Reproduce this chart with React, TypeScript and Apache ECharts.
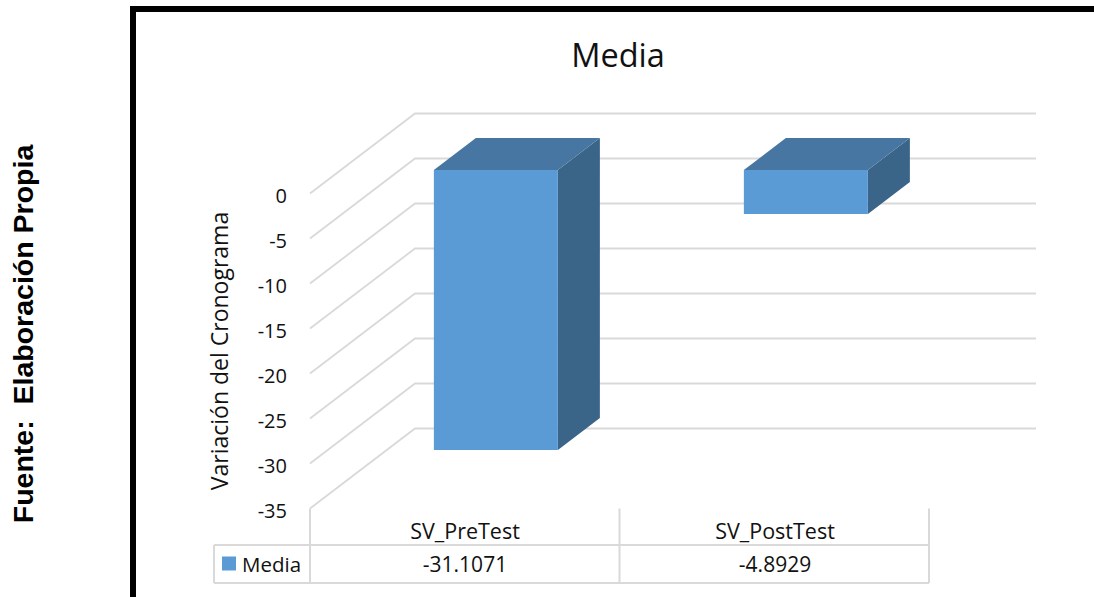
import React, { useEffect, useRef } from "react";
import * as echarts from "echarts";

const categories = ["SV_PreTest", "SV_PostTest"];
const mediaValues = [-31.1071, -4.8929];
const tableLabels = ["-31.1071", "-4.8929"];
const yTicks = [0, -5, -10, -15, -20, -25, -30, -35];
const titleText = "Media";
const yAxisTitle = "Variación del Cronograma";
const sourceNote = "Fuente:  Elaboración Propia";

const FONT = "'Open Sans'";
const GRID = { left: 310, top: 193.5, width: 620, height: 315 };
// Oblique projection of the floor depth, in pixels
const DEPTH = { x: 105, y: -80 };
// Where the bars sit between the front (0) and back (1) planes
const BAR_FRONT = 0.294;
const BAR_BACK = 0.694;
const BAR_WIDTH_RATIO = 0.4;
const COLORS = {
  front: "#5b9bd5",
  top: "#4676a1",
  side: "#3a6488",
  rule: "#d9d9d9",
  text: "#111111",
};
const TABLE = { left: 214, rowTop: 545, bottom: 583, right: 929 };

const poly = (points: number[][], fill: string) => ({
  type: "polygon",
  shape: { points },
  style: { fill },
});

// Slanted floor-to-wall rule plus the horizontal rule on the back wall
function renderWallRule(params: any, api: any) {
  const cs = params.coordSys;
  const p = api.coord([0, api.value(1)]);
  const y = p[1];
  const style = { stroke: COLORS.rule, lineWidth: 1.8, fill: "none" };
  return {
    type: "polyline",
    shape: {
      points: [
        [cs.x, y],
        [cs.x + DEPTH.x, y + DEPTH.y],
        [cs.x + cs.width + DEPTH.x + 1, y + DEPTH.y],
      ],
    },
    style,
  };
}

// Box with front, side and top faces, hanging from the zero plane
function renderBar(params: any, api: any) {
  const idx = api.value(0);
  const zero = api.coord([idx, 0]);
  const end = api.coord([idx, api.value(1)]);
  const band = api.size([1, 0])[0];
  const w = band * BAR_WIDTH_RATIO;
  const fx = BAR_FRONT * DEPTH.x;
  const fy = BAR_FRONT * DEPTH.y;
  const dx = (BAR_BACK - BAR_FRONT) * DEPTH.x;
  const dy = (BAR_BACK - BAR_FRONT) * DEPTH.y;
  const l = zero[0] - w / 2 + fx;
  const r = l + w;
  const t = zero[1] + fy;
  const b = end[1] + fy;
  return {
    type: "group",
    children: [
      poly([[r, t], [r + dx, t + dy], [r + dx, b + dy], [r, b]], COLORS.side),
      poly([[l, t], [l + dx, t + dy], [r + dx, t + dy], [r, t]], COLORS.top),
      poly([[l, t], [r, t], [r, b], [l, b]], COLORS.front),
    ],
  };
}

// Value cell of the data table under each category
function renderTableValue(params: any, api: any) {
  const idx = api.value(0);
  const x = api.coord([idx, 0])[0];
  return {
    type: "text",
    style: {
      x,
      y: (TABLE.rowTop + TABLE.bottom) / 2,
      text: tableLabels[idx],
      align: "center",
      verticalAlign: "middle",
      fill: COLORS.text,
      font: `21px ${FONT}`,
    },
  };
}

const tableLine = (x1: number, y1: number, x2: number, y2: number) => ({
  type: "line",
  shape: { x1, y1, x2, y2 },
  style: { stroke: COLORS.rule, lineWidth: 2 },
});

export default function App() {
  const ref = useRef<HTMLDivElement>(null);

  useEffect(() => {
    document.body.style.margin = "0";
    const chart = echarts.init(ref.current!, undefined, { renderer: "svg" });
    chart.setOption({
      animation: false,
      backgroundColor: "#ffffff",
      title: {
        text: titleText,
        left: 618,
        top: 38,
        padding: 0,
        textAlign: "center",
        textStyle: { fontFamily: FONT, fontSize: 32.5, fontWeight: "normal", color: COLORS.text },
      },
      legend: {
        left: 222,
        top: 553,
        padding: 0,
        itemWidth: 14,
        itemHeight: 14,
        itemGap: 0,
        data: [{ name: "Media", icon: "rect" }],
        textStyle: { fontFamily: FONT, fontSize: 20.5, color: COLORS.text, padding: [0, 0, 0, 1] },
      },
      grid: GRID,
      xAxis: {
        type: "category",
        data: categories,
        axisLine: { show: false },
        axisTick: { show: false },
        axisLabel: { margin: 11, fontFamily: FONT, fontSize: 21.5, color: COLORS.text },
      },
      yAxis: {
        type: "value",
        min: -35,
        max: 0,
        interval: 5,
        name: yAxisTitle,
        nameLocation: "middle",
        nameRotate: 90,
        nameGap: 80,
        nameTextStyle: { fontFamily: FONT, fontSize: 23, color: COLORS.text },
        axisLine: { show: false },
        axisTick: { show: false },
        splitLine: { show: false },
        axisLabel: {
          margin: 23,
          fontFamily: FONT,
          fontSize: 20,
          color: COLORS.text,
          verticalAlign: "top",
          lineHeight: 3,
        },
      },
      series: [
        {
          type: "custom",
          name: "rules",
          silent: true,
          renderItem: renderWallRule,
          encode: { x: 0, y: 1 },
          data: yTicks.map((t) => [0, t]),
          z: 1,
        },
        {
          type: "custom",
          name: "Media",
          renderItem: renderBar,
          itemStyle: { color: COLORS.front },
          encode: { x: 0, y: 1 },
          data: mediaValues.map((v, i) => [i, v]),
          z: 2,
        },
        {
          type: "custom",
          name: "table",
          silent: true,
          renderItem: renderTableValue,
          encode: { x: 0, y: 1 },
          data: mediaValues.map((v, i) => [i, v]),
          z: 3,
        },
      ],
      graphic: [
        // Outer frame, open towards the right and bottom page edges
        {
          type: "polyline",
          shape: { points: [[133, 597], [133, 9], [1094, 9]] },
          style: { stroke: "#000000", lineWidth: 6, fill: "none" },
          z: 5,
        },
        {
          type: "text",
          x: 23,
          y: 334,
          rotation: Math.PI / 2,
          style: {
            text: sourceNote,
            align: "center",
            verticalAlign: "middle",
            fill: "#000000",
            font: "bold 28.5px 'Liberation Sans'",
          },
        },
        tableLine(GRID.left, GRID.top + GRID.height, GRID.left, TABLE.bottom),
        tableLine(619.5, GRID.top + GRID.height, 619.5, TABLE.bottom),
        tableLine(TABLE.right, GRID.top + GRID.height, TABLE.right, TABLE.bottom),
        tableLine(TABLE.left, TABLE.rowTop, TABLE.right, TABLE.rowTop),
        tableLine(TABLE.left, TABLE.bottom, TABLE.right, TABLE.bottom),
        tableLine(TABLE.left, TABLE.rowTop, TABLE.left, TABLE.bottom),
      ],
    });
    return () => chart.dispose();
  }, []);

  return <div ref={ref} style={{ width: 1094, height: 597 }} />;
}
